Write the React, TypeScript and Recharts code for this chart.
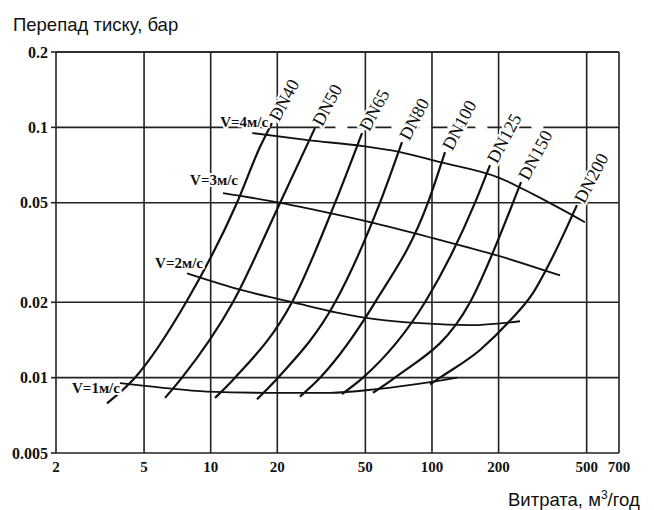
import { LineChart, Line, XAxis, YAxis, ReferenceLine, ReferenceDot } from "recharts";

type Pt = { q: number; dp: number };

// axis ticks (log scales)
const xTicks = [2, 5, 10, 20, 50, 100, 200, 500, 700];
const yTicks = [0.005, 0.01, 0.02, 0.05, 0.1, 0.2];

// pipe curves: flow m3/h vs pressure drop bar
const dn40: Pt[] = [
  { q: 3.4, dp: 0.0079 }, { q: 4.55, dp: 0.01 }, { q: 7.74, dp: 0.02 },
  { q: 13.15, dp: 0.05 }, { q: 16.7, dp: 0.0834 }, { q: 18.9, dp: 0.104 },
];
const dn50: Pt[] = [
  { q: 6.22, dp: 0.0083 }, { q: 7.42, dp: 0.01 }, { q: 12.6, dp: 0.02 },
  { q: 20.6, dp: 0.05 }, { q: 29.6, dp: 0.0994 },
];
const dn65: Pt[] = [
  { q: 10.46, dp: 0.0083 }, { q: 12.88, dp: 0.01 }, { q: 23.3, dp: 0.02 },
  { q: 36.5, dp: 0.05 }, { q: 48.3, dp: 0.0949 },
];
const dn80: Pt[] = [
  { q: 16.19, dp: 0.0082 }, { q: 20.15, dp: 0.01 }, { q: 36.5, dp: 0.02 },
  { q: 58.2, dp: 0.05 }, { q: 73.2, dp: 0.0873 },
];
const dn100: Pt[] = [
  { q: 25.3, dp: 0.0084 }, { q: 31.2, dp: 0.01 }, { q: 55.3, dp: 0.02 },
  { q: 95.9, dp: 0.05 }, { q: 114.5, dp: 0.0796 },
];
const dn125: Pt[] = [
  { q: 39.2, dp: 0.0086 }, { q: 48.8, dp: 0.01 }, { q: 93, dp: 0.02 },
  { q: 156.5, dp: 0.05 }, { q: 182.8, dp: 0.0706 },
];
const dn150: Pt[] = [
  { q: 54.1, dp: 0.0087 }, { q: 68, dp: 0.01 }, { q: 148.6, dp: 0.02 },
  { q: 232.4, dp: 0.05 }, { q: 252.6, dp: 0.0604 },
];
const dn200: Pt[] = [
  { q: 98, dp: 0.0094 }, { q: 108.7, dp: 0.01 }, { q: 164.8, dp: 0.0129 },
  { q: 225.3, dp: 0.0169 }, { q: 283.2, dp: 0.0215 }, { q: 348.6, dp: 0.03 },
  { q: 452, dp: 0.0489 },
];

// velocity lines
const v4: Pt[] = [
  { q: 15.4, dp: 0.0949 }, { q: 27.5, dp: 0.0889 }, { q: 48.8, dp: 0.0841 },
  { q: 71.7, dp: 0.0796 }, { q: 108.7, dp: 0.0726 }, { q: 202.8, dp: 0.0627 },
  { q: 285.9, dp: 0.0541 }, { q: 491, dp: 0.0418 },
];
const v3: Pt[] = [
  { q: 11.37, dp: 0.0546 }, { q: 21, dp: 0.0498 }, { q: 34.6, dp: 0.0454 },
  { q: 52.5, dp: 0.0418 }, { q: 101, dp: 0.0361 }, { q: 196.7, dp: 0.0308 },
  { q: 379, dp: 0.0256 },
];
const v2: Pt[] = [
  { q: 7.82, dp: 0.0261 }, { q: 14, dp: 0.0223 }, { q: 23.6, dp: 0.02 },
  { q: 37.2, dp: 0.0182 }, { q: 56.4, dp: 0.0171 }, { q: 88.3, dp: 0.0165 },
  { q: 148.6, dp: 0.0162 }, { q: 249.9, dp: 0.0168 },
];
const v1: Pt[] = [
  { q: 3.89, dp: 0.0095 }, { q: 6.09, dp: 0.0091 }, { q: 9.62, dp: 0.0088 },
  { q: 17.97, dp: 0.0087 }, { q: 34.6, dp: 0.0087 }, { q: 56.4, dp: 0.009 },
  { q: 98, dp: 0.0096 }, { q: 129.8, dp: 0.01 },
];

const pipes = [
  { name: "DN40", points: dn40 },
  { name: "DN50", points: dn50 },
  { name: "DN65", points: dn65 },
  { name: "DN80", points: dn80 },
  { name: "DN100", points: dn100 },
  { name: "DN125", points: dn125 },
  { name: "DN150", points: dn150 },
  { name: "DN200", points: dn200 },
];
const speeds = [
  { name: "V=4м/с", points: v4 },
  { name: "V=3м/с", points: v3 },
  { name: "V=2м/с", points: v2 },
  { name: "V=1м/с", points: v1 },
];

const INK = "#111";
const GRID = "#222";
const serif = "'Liberation Serif', 'DejaVu Serif', serif";
const sans = "'Liberation Sans', Arial, sans-serif";

// where each velocity label sits relative to the start of its line (px)
const speedLabelShift = [
  [16, -6],
  [15, -8],
  [16, -5],
  [0, 10],
];

const halo = { stroke: "#fff", strokeWidth: 4, paintOrder: "stroke" as const };

export default function App() {
  return (
    <div
      style={{
        position: "absolute",
        left: 0,
        top: 0,
        width: 654,
        height: 510,
        background: "#fff",
      }}
    >
      <LineChart
        width={654}
        height={510}
        margin={{ top: 52, right: 35, bottom: 27, left: 6 }}
      >
        <XAxis
          dataKey="q"
          type="number"
          scale="log"
          domain={[2, 700]}
          ticks={xTicks}
          interval={0}
          allowDataOverflow
          height={30}
          tickLine={false}
          axisLine={{ stroke: GRID, strokeWidth: 1.6 }}
          tick={{ fill: INK, fontSize: 15, fontFamily: serif, fontWeight: "bold" }}
        />
        <YAxis
          dataKey="dp"
          type="number"
          scale="log"
          domain={[0.005, 0.2]}
          ticks={yTicks}
          interval={0}
          allowDataOverflow
          width={50}
          tickSize={5}
          tickMargin={3}
          tickLine={{ stroke: GRID, strokeWidth: 1.6 }}
          axisLine={{ stroke: GRID, strokeWidth: 1.6 }}
          tick={{ fill: INK, fontSize: 16, fontFamily: serif, fontWeight: "bold" }}
        />

        {/* grid */}
        {xTicks.slice(1).map((x) => (
          <ReferenceLine key={"vx" + x} x={x} stroke={GRID} strokeWidth={1.6} />
        ))}
        {yTicks.slice(1).filter((y) => y !== 0.1).map((y) => (
          <ReferenceLine key={"hy" + y} y={y} stroke={GRID} strokeWidth={1.6} />
        ))}
        {/* 0.1 line: solid, dashed middle, solid */}
        <ReferenceLine
          segment={[{ x: 2, y: 0.1 }, { x: 31, y: 0.1 }]}
          stroke={GRID}
          strokeWidth={1.6}
        />
        <ReferenceLine
          segment={[{ x: 31, y: 0.1 }, { x: 352, y: 0.1 }]}
          stroke={GRID}
          strokeWidth={1.6}
          strokeDasharray="16 12"
        />
        <ReferenceLine
          segment={[{ x: 352, y: 0.1 }, { x: 700, y: 0.1 }]}
          stroke={GRID}
          strokeWidth={1.6}
        />

        {pipes.map((p) => (
          <Line
            key={p.name}
            data={p.points}
            dataKey="dp"
            type="monotone"
            stroke={INK}
            strokeWidth={2.2}
            dot={false}
            activeDot={false}
            isAnimationActive={false}
          />
        ))}
        {speeds.map((s) => (
          <Line
            key={s.name}
            data={s.points}
            dataKey="dp"
            type="monotone"
            stroke={INK}
            strokeWidth={1.8}
            dot={false}
            activeDot={false}
            isAnimationActive={false}
          />
        ))}

        {pipes.map((p) => {
          const end = p.points[p.points.length - 1];
          return (
            <ReferenceDot
              key={"l" + p.name}
              x={end.q}
              y={end.dp}
              r={0}
              shape={(d: any) => (
                <text
                  x={d.cx}
                  y={d.cy}
                  transform={`rotate(-62 ${d.cx} ${d.cy}) translate(4 0)`}
                  textAnchor="start"
                  dominantBaseline="central"
                  fontFamily={serif}
                  fontSize={18}
                  fill={INK}
                  {...halo}
                >
                  {p.name}
                </text>
              )}
            />
          );
        })}
        {speeds.map((s, i) => {
          const start = s.points[0];
          const [dx, dy] = speedLabelShift[i];
          return (
            <ReferenceDot
              key={"l" + s.name}
              x={start.q}
              y={start.dp}
              r={0}
              shape={(d: any) => (
                <text
                  x={d.cx + dx}
                  y={d.cy + dy}
                  textAnchor="end"
                  fontFamily={serif}
                  fontSize={15}
                  fontWeight="bold"
                  fill={INK}
                  {...halo}
                >
                  {s.name}
                </text>
              )}
            />
          );
        })}
        <ReferenceLine y={0.2} stroke={GRID} strokeWidth={1.6} />
      </LineChart>

      <svg
        width={654}
        height={510}
        style={{ position: "absolute", left: 0, top: 0, pointerEvents: "none" }}
      >
        <text x={13} y={31} fontFamily={sans} fontSize={18.5} fill={INK}>
          Перепад тиску, бар
        </text>
        <text x={508} y={506} fontFamily={sans} fontSize={18.5} fill={INK}>
          Витрата, м<tspan fontSize={12} dy={-7}>3</tspan>
          <tspan dy={7}>/год</tspan>
        </text>
      </svg>
    </div>
  );
}
